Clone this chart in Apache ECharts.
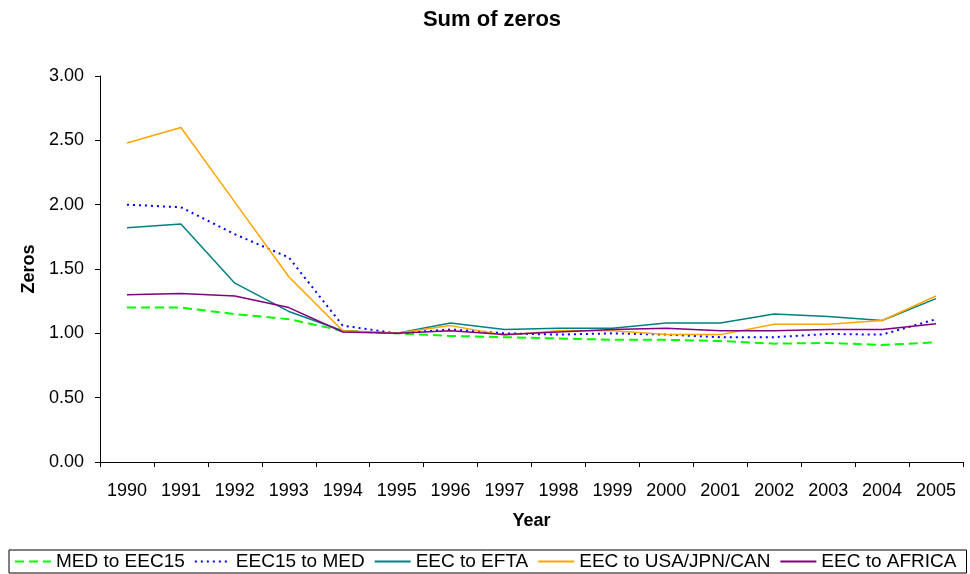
<!DOCTYPE html>
<html><head><meta charset="utf-8">
<script src="https://cdn.jsdelivr.net/npm/echarts@6/dist/echarts.min.js"></script>
<style>html,body{margin:0;padding:0;background:#fff}#c{width:970px;height:574px}</style>
</head><body><div id="c"></div>
<script>
const years = ['1990','1991','1992','1993','1994','1995','1996','1997','1998','1999','2000','2001','2002','2003','2004','2005'];
const medToEec15 = [1.20,1.20,1.15,1.11,1.02,1.00,0.98,0.97,0.96,0.95,0.95,0.94,0.92,0.925,0.91,0.93];
const eec15ToMed = [2.00,1.98,1.77,1.59,1.06,1.00,1.03,1.00,0.99,1.00,0.99,0.97,0.97,0.995,0.99,1.11];
const eecToEfta = [1.82,1.85,1.39,1.17,1.02,1.00,1.08,1.03,1.04,1.04,1.08,1.08,1.15,1.13,1.10,1.27];
const eecToUsa = [2.48,2.60,2.02,1.44,1.02,1.00,1.06,0.985,1.02,1.02,0.99,0.99,1.07,1.07,1.10,1.29];
const eecToAfrica = [1.30,1.31,1.29,1.20,1.01,1.00,1.02,0.99,1.01,1.03,1.04,1.02,1.02,1.03,1.03,1.075];
const yTicks = ['0.00','0.50','1.00','1.50','2.00','2.50','3.00'];

const font = 'Liberation Sans, Arial, sans-serif';
const chart = echarts.init(document.getElementById('c'));
function mk(name, data, color, type, width){
  return {name, type:'line', data, symbol:'none', animation:false,
    lineStyle:{color, width, type}, itemStyle:{color}};
}
chart.setOption({
  animation:false,
  title:{text:'Sum of zeros', left:487, top:4, textAlign:'center',
    textStyle:{fontFamily:font, fontSize:22, fontWeight:'bold', color:'#000'}},
  grid:{left:100, right:7, top:76, bottom:112, containLabel:false},
  xAxis:{type:'category', data:years, boundaryGap:true,
    name:'Year', nameLocation:'middle', nameGap:50,
    nameTextStyle:{fontFamily:font, fontSize:18, fontWeight:'bold', color:'#000'},
    axisLine:{lineStyle:{color:'#000', width:1}},
    axisTick:{show:true, length:5, lineStyle:{color:'#000'}},
    axisLabel:{fontFamily:font, fontSize:18, color:'#000', margin:20}},
  yAxis:{type:'value', min:0, max:3, interval:0.5,
    name:'Zeros', nameLocation:'middle', nameGap:61, nameRotate:90,
    nameTextStyle:{fontFamily:font, fontSize:18, fontWeight:'bold', color:'#000'},
    axisLine:{show:true, lineStyle:{color:'#000', width:1}},
    axisTick:{show:true, length:5, lineStyle:{color:'#000'}},
    splitLine:{show:false},
    axisLabel:{fontFamily:font, fontSize:18, color:'#000', margin:16,
      formatter:(v)=>yTicks[Math.round(v/0.5)]}},
  legend:{bottom:1, left:9, borderColor:'#000', borderWidth:1,
    padding:[2,10,2,5], itemGap:9, itemWidth:36, itemHeight:14,
    itemStyle:{color:'transparent', borderColor:'transparent', borderWidth:0},
    textStyle:{fontFamily:font, fontSize:19, color:'#000'},
    data:['MED to EEC15','EEC15 to MED','EEC to EFTA','EEC to USA/JPN/CAN','EEC to AFRICA']},
  series:[
    mk('MED to EEC15', medToEec15, '#00FF00', [9,5], 2),
    mk('EEC15 to MED', eec15ToMed, '#0000FF', [2,4], 2),
    mk('EEC to EFTA', eecToEfta, '#008080', 'solid', 1.5),
    mk('EEC to USA/JPN/CAN', eecToUsa, '#FFA500', 'solid', 1.5),
    mk('EEC to AFRICA', eecToAfrica, '#800080', 'solid', 1.5)
  ]
});
</script></body></html>
